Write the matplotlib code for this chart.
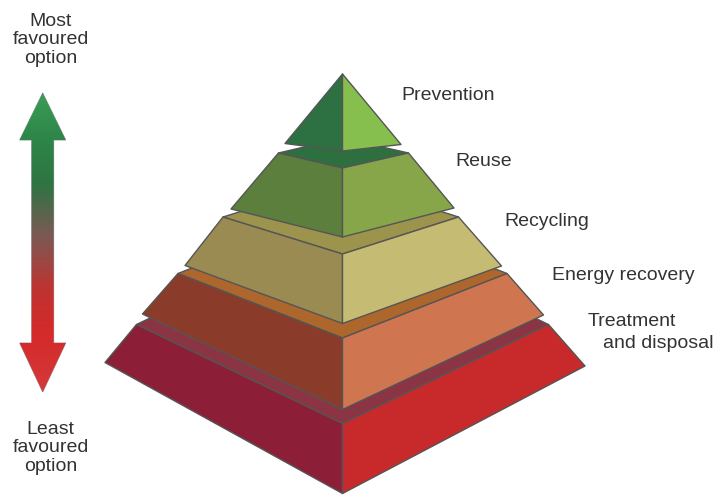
import numpy as np
import matplotlib
matplotlib.use("Agg")
import matplotlib.pyplot as plt
from matplotlib.patches import Polygon
from matplotlib.colors import LinearSegmentedColormap

plt.rcParams['font.family'] = ['Liberation Sans', 'DejaVu Sans']

# ---- data ----
labels = ["Prevention", "Reuse", "Recycling", "Energy recovery", "Treatment\nand disposal"]
# per tier: top side-corner y, top front y, bottom side-corner y, bottom front y
center_x = 342.5
apex_y = 74
top_left_x = [None, 278.5, 223, 178, 136.5]
top_right_x = [None, 408.5, 458.5, 507, 548.5]
top_side_y = [None, 153, 217, 273.5, 324.5]
top_front_y = [None, 168, 254, 338, 423.5]
bot_left_x = [285, 231, 185, 142.5, 105]
bot_right_x = [401, 454, 501.5, 543.5, 585]
bot_left_y = [143.5, 209, 265.5, 314, 362.5]
bot_right_y = [144.5, 208, 266, 315, 366]
bot_front_y = [151, 237, 323.5, 409.5, 493.5]

top_colors = [None, "#2e6f3f", "#9c934c", "#ad672c", "#8b3444"]
left_colors = ["#2d7042", "#5d7f3e", "#9a8b53", "#8b3b29", "#8c1f37"]
right_colors = ["#87bf4f", "#87a64a", "#c5bb72", "#cf7650", "#c8292b"]

label_x = [401, 455, 504, 552, 588]
label_y = [95, 161, 222, 276, 321]

arrow_stops_y = [93, 140, 185, 235, 290, 335, 392]
arrow_stops_c = ["#3a9c56", "#2d8548", "#2f7343", "#7a5a54", "#bf3331", "#d52a2a", "#d4393a"]

top_text = "Most\nfavoured\noption"
bottom_text = "Least\nfavoured\noption"

# ---- figure ----
fig = plt.figure(figsize=(7.18, 4.95), dpi=100)
ax = fig.add_axes([0, 0, 1, 1])
ax.set_xlim(0, 718)
ax.set_ylim(495, 0)
ax.axis('off')

edge = "#555555"
lw = 1.0

for i in range(len(labels) - 1, -1, -1):
    F_b = (center_x, bot_front_y[i])
    L_b = (bot_left_x[i], bot_left_y[i])
    R_b = (bot_right_x[i], bot_right_y[i])
    if i == 0:
        A = (center_x, apex_y)
        ax.add_patch(Polygon([A, L_b, F_b], closed=True, fc=left_colors[i], ec=edge, lw=lw, joinstyle='round'))
        ax.add_patch(Polygon([A, F_b, R_b], closed=True, fc=right_colors[i], ec=edge, lw=lw, joinstyle='round'))
    else:
        L_t = (top_left_x[i], top_side_y[i])
        R_t = (top_right_x[i], top_side_y[i])
        F_t = (center_x, top_front_y[i])
        B_t = (center_x, 2 * top_side_y[i] - top_front_y[i])
        ax.add_patch(Polygon([L_t, B_t, R_t, F_t], closed=True, fc=top_colors[i], ec=edge, lw=lw, joinstyle='round'))
        ax.add_patch(Polygon([L_t, F_t, F_b, L_b], closed=True, fc=left_colors[i], ec=edge, lw=lw, joinstyle='round'))
        ax.add_patch(Polygon([F_t, R_t, R_b, F_b], closed=True, fc=right_colors[i], ec=edge, lw=lw, joinstyle='round'))

txt_color = "#333333"
fs = 14
for i, lab in enumerate(labels):
    lines = lab.split("\n")
    if len(lines) == 1:
        ax.text(label_x[i], label_y[i], lab, fontsize=fs, color=txt_color, ha='left', va='center')
    else:
        ax.text(label_x[i], label_y[i], lines[0], fontsize=fs, color=txt_color, ha='left', va='center')
        ax.text(label_x[i] + 15, label_y[i] + 22, lines[1], fontsize=fs, color=txt_color, ha='left', va='center')

# ---- gradient double arrow ----
ax_c = 42.7
hw, sw = 23, 11
t_tip, t_base, b_base, b_tip = 93, 140, 343, 392
arrow_pts = [(ax_c, t_tip), (ax_c + hw, t_base), (ax_c + sw, t_base), (ax_c + sw, b_base),
             (ax_c + hw, b_base), (ax_c, b_tip), (ax_c - hw, b_base), (ax_c - sw, b_base),
             (ax_c - sw, t_base), (ax_c - hw, t_base)]
arrow_poly = Polygon(arrow_pts, closed=True, fc='none', ec="#8a8a8a", lw=0.6)
ax.add_patch(arrow_poly)
pos = [(y - t_tip) / (b_tip - t_tip) for y in arrow_stops_y]
cmap = LinearSegmentedColormap.from_list("arr", list(zip(pos, arrow_stops_c)))
grad = np.linspace(0, 1, 300).reshape(-1, 1)
im = ax.imshow(grad, cmap=cmap, aspect='auto', extent=[ax_c - hw, ax_c + hw, b_tip, t_tip], origin='upper', zorder=1)
im.set_clip_path(arrow_poly)

ax.text(50.5, 40, top_text, fontsize=fs, color=txt_color, ha='center', va='center', linespacing=1.13, multialignment='center')
ax.text(50.5, 448, bottom_text, fontsize=fs, color=txt_color, ha='center', va='center', linespacing=1.13, multialignment='center')

fig.savefig("out.png", dpi=100, facecolor='white')
